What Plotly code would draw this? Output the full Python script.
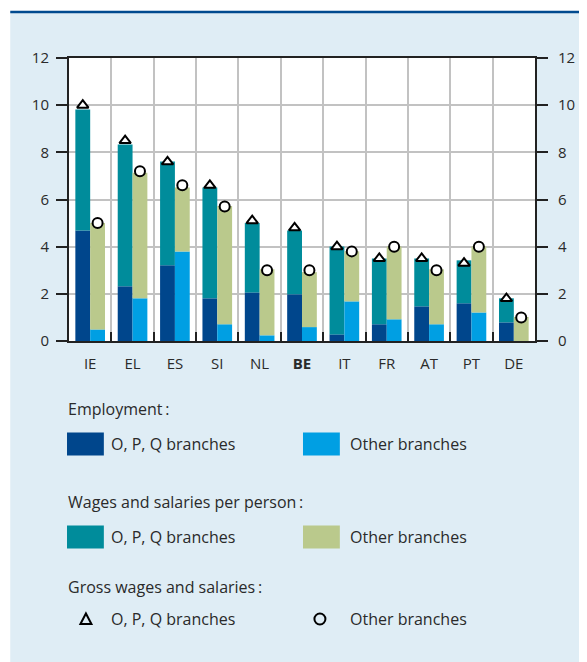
import plotly.graph_objects as go

countries = ["IE", "EL", "ES", "SI", "NL", "BE", "IT", "FR", "AT", "PT", "DE"]
country_labels = ["IE", "EL", "ES", "SI", "NL", "<b>BE</b>", "IT", "FR", "AT", "PT", "DE"]

# contributions, O, P, Q branches
emp_opq = [4.69, 2.32, 3.21, 1.81, 2.06, 1.98, 0.28, 0.71, 1.47, 1.60, 0.79]
wage_opq = [5.13, 6.01, 4.40, 4.70, 2.94, 2.71, 3.73, 2.79, 2.03, 1.82, 1.02]
gross_opq = [10.0, 8.5, 7.6, 6.6, 5.1, 4.8, 4.0, 3.5, 3.5, 3.3, 1.8]

# contributions, other branches
emp_oth = [0.49, 1.81, 3.80, 0.71, 0.24, 0.59, 1.68, 0.92, 0.71, 1.21, 0.0]
wage_oth = [4.51, 5.32, 2.71, 5.01, 2.80, 2.33, 2.12, 3.09, 2.33, 2.80, 1.02]
gross_oth = [5.0, 7.2, 6.6, 5.7, 3.0, 3.0, 3.8, 4.0, 3.0, 4.0, 1.0]

C_EMP_OPQ = "#00468C"
C_EMP_OTH = "#009FE3"
C_WAGE_OPQ = "#008C9B"
C_WAGE_OTH = "#BAC98C"
BG = "#DFEDF5"
TXT = "#2a2a2a"
FONT = "Open Sans"

# page has an 8px body margin, so the figure sits at (8, 8) in the window
OFF = 8
W, H = 587 - OFF, 662 - OFF
L, R, T, B = 69 - OFF, 50, 58 - OFF, 321


def px(x):
    return (x - OFF - L) / (W - L - R)


def py(y):
    return (H - B - (y - OFF)) / (H - T - B)


fig = go.Figure()
fig.add_bar(x=countries, y=emp_opq, offsetgroup="opq", marker_color=C_EMP_OPQ, marker_line_width=0)
fig.add_bar(x=countries, y=wage_opq, base=emp_opq, offsetgroup="opq", marker_color=C_WAGE_OPQ, marker_line_width=0)
fig.add_bar(x=countries, y=emp_oth, offsetgroup="oth", marker_color=C_EMP_OTH, marker_line_width=0)
fig.add_bar(x=countries, y=wage_oth, base=emp_oth, offsetgroup="oth", marker_color=C_WAGE_OTH, marker_line_width=0)

fig.add_scatter(x=countries, y=gross_opq, mode="markers", offsetgroup="opq",
                marker=dict(symbol="triangle-up", size=10, color="white", line=dict(color="black", width=2)))
fig.add_scatter(x=countries, y=gross_oth, mode="markers", offsetgroup="oth",
                marker=dict(symbol="circle", size=10, color="white", line=dict(color="black", width=2)))
# invisible trace so the right-hand axis gets drawn
fig.add_scatter(x=countries, y=gross_opq, mode="markers", yaxis="y2", marker_opacity=0, hoverinfo="skip")

fig.update_layout(
    width=W, height=H,
    margin=dict(l=L, r=R, t=T, b=B),
    paper_bgcolor=BG, plot_bgcolor="white",
    barmode="group", bargap=0.3, bargroupgap=0,
    scattermode="group", scattergap=0.3,
    showlegend=False,
    font=dict(family=FONT, size=15, color=TXT),
    xaxis=dict(type="category", tickmode="array", tickvals=countries, ticktext=country_labels,
               tickson="boundaries", ticks="inside", ticklen=9, tickcolor="#222", tickwidth=1.5,
               showgrid=True, gridcolor="#C2C2C2", gridwidth=1.5,
               showline=True, linecolor="#222", linewidth=2, mirror=True,
               ticklabelstandoff=8),
    yaxis=dict(range=[0, 12], dtick=2, ticks="outside", ticklen=11, tickcolor="#222", tickwidth=1.5,
               showgrid=True, gridcolor="#C2C2C2", gridwidth=1.5, zeroline=False,
               showline=True, linecolor="#222", linewidth=2, ticklabelstandoff=4),
    yaxis2=dict(range=[0, 12], dtick=2, overlaying="y", side="right", ticks="outside", ticklen=11,
                tickcolor="#222", tickwidth=1.5, showgrid=False, zeroline=False,
                showline=True, linecolor="#222", linewidth=2, ticklabelstandoff=7),
)

# frame: white edges and dark blue top rule
shapes = [
    dict(type="rect", xref="paper", yref="paper", x0=px(0), x1=px(10), y0=py(H + OFF), y1=py(0),
         fillcolor="white", line_width=0, layer="below"),
    dict(type="rect", xref="paper", yref="paper", x0=px(0), x1=px(W + OFF), y0=py(12), y1=py(0),
         fillcolor="white", line_width=0, layer="below"),
    dict(type="line", xref="paper", yref="paper", x0=px(10), x1=px(W + OFF), y0=py(12), y1=py(12),
         line=dict(color="#004A8F", width=2.5)),
]

annotations = []

# legend
sections = [
    ("Employment\u2009:", 409, 444, C_EMP_OPQ, C_EMP_OTH),
    ("Wages and salaries per person\u2009:", 502, 537, C_WAGE_OPQ, C_WAGE_OTH),
    ("Gross wages and salaries\u2009:", 587, 619, None, None),
]
for title, ty, iy, c1, c2 in sections:
    annotations.append(dict(xref="paper", yref="paper", x=px(66), y=py(ty), text=title, showarrow=False,
                            xanchor="left", yanchor="middle", font=dict(size=16, color=TXT)))
    annotations.append(dict(xref="paper", yref="paper", x=px(109), y=py(iy), text="O, P, Q branches",
                            showarrow=False, xanchor="left", yanchor="middle", font=dict(size=16, color=TXT)))
    annotations.append(dict(xref="paper", yref="paper", x=px(349), y=py(iy), text="Other branches",
                            showarrow=False, xanchor="left", yanchor="middle", font=dict(size=16, color=TXT)))
    if c1:
        shapes.append(dict(type="rect", xref="paper", yref="paper", x0=px(67), x1=px(104),
                           y0=py(iy - 11.5), y1=py(iy + 11.5), fillcolor=c1, line_width=0))
        shapes.append(dict(type="rect", xref="paper", yref="paper", x0=px(304), x1=px(341),
                           y0=py(iy - 11.5), y1=py(iy + 11.5), fillcolor=c2, line_width=0))
    else:
        shapes.append(dict(type="path", xref="paper", yref="paper", xsizemode="pixel", ysizemode="pixel",
                           xanchor=px(86), yanchor=py(iy),
                           path="M -5.5 -5 L 5.5 -5 L 0 5.5 Z", line=dict(color="black", width=2)))
        shapes.append(dict(type="circle", xref="paper", yref="paper", xsizemode="pixel", ysizemode="pixel",
                           xanchor=px(321), yanchor=py(iy), x0=-5.5, x1=5.5, y0=-5.5, y1=5.5,
                           line=dict(color="black", width=2)))

fig.update_layout(shapes=shapes, annotations=annotations)

fig.write_html("out.html")
